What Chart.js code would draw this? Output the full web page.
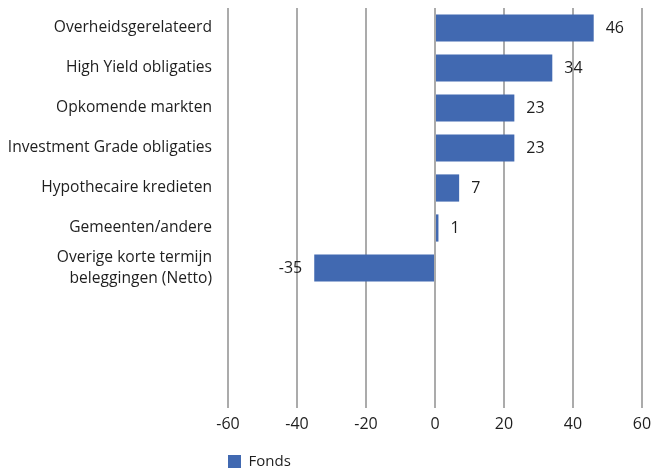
<!DOCTYPE html>
<html>
<head>
<meta charset="utf-8">
<script src="https://cdn.jsdelivr.net/npm/chart.js@4.4.1/dist/chart.umd.min.js"></script>
<style>
  html, body { margin: 0; padding: 0; background: #fff; }
  #wrap { width: 654px; height: 473px; position: relative; }
</style>
</head>
<body>
<div id="wrap"><canvas id="chart"></canvas></div>
<script>
// ── Data ──────────────────────────────────────────────────────────────────────
const CATEGORIES = [
  "Overheidsgerelateerd",
  "High Yield obligaties",
  "Opkomende markten",
  "Investment Grade obligaties",
  "Hypothecaire kredieten",
  "Gemeenten/andere",
  ["Overige korte termijn", "beleggingen (Netto)"],
  "", "", "",
];
const FONDS = [46, 34, 23, 23, 7, 1, -35, null, null, null];
const X_TICKS = [-60, -40, -20, 0, 20, 40, 60];

const BAR_BLUE  = "#4169b1";
const GRID_GREY = "#ababab";
const TEXT      = "#1e1e1e";
const FONT      = "'Open Sans', 'Noto Sans', sans-serif";

// ── Value labels next to each bar ─────────────────────────────────────────────
const valueLabels = {
  id: "valueLabels",
  afterDatasetsDraw(chart) {
    const ctx = chart.ctx;
    const meta = chart.getDatasetMeta(0);
    ctx.save();
    ctx.font = `16px ${FONT}`;
    ctx.fillStyle = TEXT;
    ctx.textBaseline = "middle";
    meta.data.forEach((bar, i) => {
      const v = FONDS[i];
      if (v == null) return;
      if (v < 0) {
        ctx.textAlign = "right";
        ctx.fillText(String(v), bar.x - 12, bar.y);
      } else {
        ctx.textAlign = "left";
        ctx.fillText(String(v), bar.x + 12, bar.y);
      }
    });
    ctx.restore();
  },
};

// Legend sits under the tick labels, lined up with the left edge of the plot
const legendAlign = {
  id: "legendAlign",
  afterLayout(chart) {
    const lg = chart.legend;
    const dx = chart.chartArea.left - 8 - lg.left;
    const dy = 446 - lg.top;
    lg.left += dx; lg.right += dx;
    lg.top += dy;  lg.bottom += dy;
  },
};

new Chart(document.getElementById("chart"), {
  type: "bar",
  data: {
    labels: CATEGORIES,
    datasets: [{
      label: "Fonds",
      data: FONDS,
      backgroundColor: BAR_BLUE,
      borderWidth: 0,
      categoryPercentage: 1,
      barPercentage: 0.68,
    }],
  },
  options: {
    indexAxis: "y",
    responsive: true,
    maintainAspectRatio: false,
    animation: false,
    layout: { padding: { top: 8, right: 12, bottom: 0, left: 0 } },
    scales: {
      x: {
        min: -60,
        max: 60,
        afterBuildTicks: scale => { scale.ticks = X_TICKS.map(v => ({ value: v })); },
        afterFit: scale => {
          scale.height = 32;
          scale.paddingLeft = 0; scale.paddingRight = 0;
        },
        grid: { color: GRID_GREY, lineWidth: 2, drawTicks: false },
        border: { display: false },
        ticks: { color: TEXT, padding: 7, font: { family: FONT, size: 16 } },
      },
      y: {
        afterFit: scale => {
          scale.width = 228;
          scale.paddingTop = 0; scale.paddingBottom = 0;
        },
        grid: { display: false, drawTicks: false },
        border: { display: false },
        ticks: { color: TEXT, padding: 16, autoSkip: false, font: { family: FONT, size: 15.6, lineHeight: 1.35 } },
      },
    },
    plugins: {
      legend: {
        position: "bottom",
        align: "start",
        labels: { color: TEXT, boxWidth: 13, boxHeight: 13, padding: 8, font: { family: FONT, size: 15 } },
      },
      tooltip: { enabled: false },
    },
  },
  plugins: [valueLabels, legendAlign],
});
</script>
</body>
</html>
